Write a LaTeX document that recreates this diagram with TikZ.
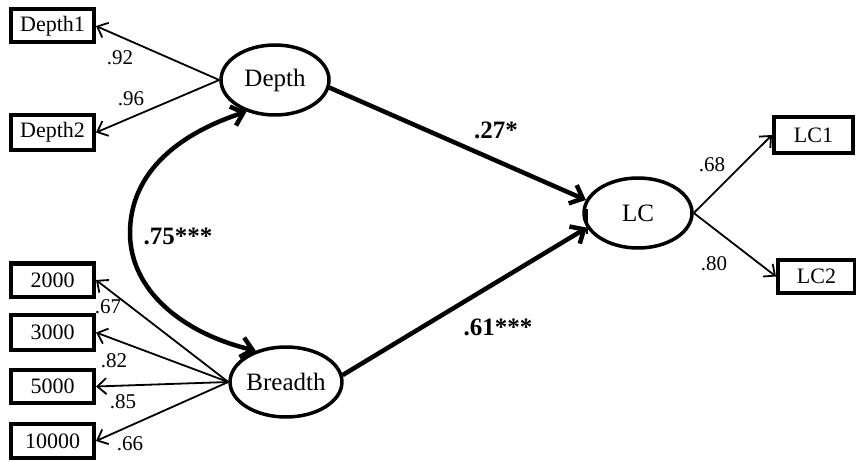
\documentclass[tikz,border=0pt]{standalone}
\usepackage{fontspec}
\setmainfont{Liberation Serif}
\usetikzlibrary{shapes.geometric,arrows.meta}
\begin{document}
\begin{tikzpicture}[x=1pt,y=-1pt,
  latent/.style={draw,ellipse,line width=3.5pt,minimum width=108pt,minimum height=70pt,inner sep=0pt,font=\fontsize{25}{30}\selectfont},
  obs/.style={draw,rectangle,line width=4pt,minimum width=83pt,minimum height=33pt,inner sep=0pt,font=\fontsize{22}{26}\selectfont},
  load/.style={line width=1.8pt,-{Straight Barb[length=9pt,width=16pt]}},
  path/.style={line width=4.5pt,-{Straight Barb[length=11pt,width=20pt]}},
  cov/.style={line width=4.5pt,{Straight Barb[length=11pt,width=20pt]}-{Straight Barb[length=11pt,width=20pt]}},
  lab/.style={inner sep=0pt,font=\fontsize{21}{25}\selectfont},
  blab/.style={inner sep=0pt,font=\bfseries\fontsize{25}{30}\selectfont}]
\useasboundingbox (0,0) rectangle (856,462);
% latent variables
\node[latent] (Depth) at (275,80) {Depth};
\node[latent,minimum width=110pt] (Breadth) at (286,382) {Breadth};
\node[latent] (LC) at (638,213) {LC};
% observed variables
\node[obs] (D1) at (52.5,26) {Depth1};
\node[obs,minimum height=35pt] (D2) at (52.5,132.5) {Depth2};
\node[obs] (B2) at (52.5,280) {2000};
\node[obs,minimum height=35pt] (B3) at (52.5,332.5) {3000};
\node[obs] (B5) at (52.5,386.5) {5000};
\node[obs,minimum height=34pt] (B10) at (52.5,441) {10000};
\node[obs,minimum width=79pt,minimum height=36pt] (L1) at (813.5,135) {LC1};
\node[obs,minimum width=77pt,minimum height=33pt] (L2) at (816.5,276.5) {LC2};
% loadings
\draw[load] (Depth.west) -- (D1.east);
\draw[load] (Depth.west) -- (D2.east);
\draw[load] (Breadth.west) -- (B2.east);
\draw[load] (Breadth.west) -- (B3.east);
\draw[load] (Breadth.west) -- (B5.east);
\draw[load] (Breadth.west) -- (B10.east);
\draw[load] (LC.east) -- (L1.west);
\draw[load] (LC.east) -- (L2.west);
% structural paths
\draw[path] (Depth.-8) -- (LC.166);
\draw[path] (Breadth.7) -- (LC.196);
\draw[cov] (Depth.228) .. controls (175,135) and (130,175) .. (130,233)
  .. controls (130,290) and (182,333) .. (Breadth.134);
% small mark inside LC
\coordinate (m1) at (587,209);
\coordinate (m2) at (587,234);
\draw[line width=1.8pt] (m1) -- (m2);
% labels
\node[lab] at (120,58) {.92};
\node[lab] at (131,99) {.96};
\node[lab] at (108,307) {.67};
\node[lab] at (114,361) {.82};
\node[lab] at (123,402) {.85};
\node[lab] at (130,444) {.66};
\node[lab] at (712,165) {.68};
\node[lab] at (714,264) {.80};
\node[blab] at (496,130) {.27*};
\node[blab] at (498,327) {.61***};
\node[blab] at (178,236) {.75***};
\end{tikzpicture}
\end{document}
